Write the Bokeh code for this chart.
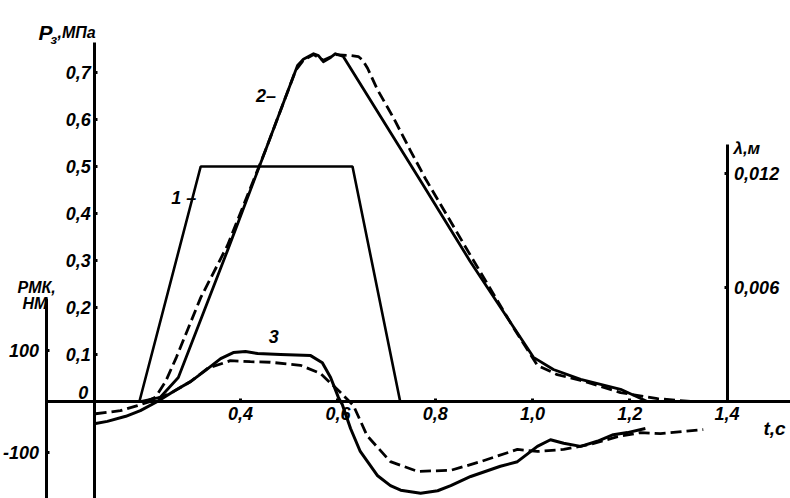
from bokeh.plotting import figure
from bokeh.models import Range1d, LinearAxis, FixedTicker, Label
from bokeh.embed import file_html
from bokeh.resources import INLINE

# ---- data ----
# curve 1: pressure programme P, MPa
t1 = [0.192, 0.318, 0.630, 0.728]
p1 = [0.0, 0.5, 0.5, 0.0]

# curve 2: pressure P, MPa (solid = measured, dashed = computed)
t2s = [0.194, 0.235, 0.272, 0.373, 0.451, 0.517, 0.529, 0.550, 0.560, 0.570, 0.585, 0.595,
       0.611, 0.772, 0.872, 1.002, 1.043, 1.099, 1.181, 1.236]
p2s = [0.000, 0.009, 0.051, 0.321, 0.534, 0.715, 0.728, 0.740, 0.736, 0.723, 0.732, 0.740,
       0.734, 0.466, 0.298, 0.094, 0.068, 0.047, 0.026, 0.000]
t2d = [0.205, 0.225, 0.246, 0.268, 0.318, 0.373, 0.451, 0.513, 0.529, 0.550, 0.570, 0.595,
       0.626, 0.642, 0.651, 0.661, 0.681, 0.714, 0.749, 0.780, 0.873, 0.961, 1.010, 1.051,
       1.099, 1.181, 1.257, 1.325]
p2d = [0.000, 0.009, 0.043, 0.094, 0.221, 0.332, 0.534, 0.704, 0.726, 0.738, 0.726, 0.738,
       0.736, 0.734, 0.726, 0.709, 0.664, 0.604, 0.534, 0.474, 0.310, 0.157, 0.077, 0.057,
       0.045, 0.019, 0.006, 0.000]

# curve 3: moment PMK, N*m
t3s = [0.102, 0.126, 0.164, 0.194, 0.229, 0.266, 0.297, 0.328, 0.359, 0.385, 0.410, 0.435,
       0.482, 0.544, 0.568, 0.585, 0.601, 0.609, 0.626, 0.646, 0.681, 0.708, 0.729, 0.770,
       0.805, 0.832, 0.873, 0.934, 0.969, 1.010, 1.037, 1.064, 1.099, 1.133, 1.166, 1.195,
       1.232]
m3s = [-43, -39, -29, -18, 0, 22, 39, 61, 84, 96, 98, 94,
       92, 90, 76, 47, 8, -6, -53, -98, -145, -165, -174, -180,
       -175, -165, -147, -127, -118, -88, -75, -82, -88, -78, -65, -61,
       -53]
t3d = [0.102, 0.153, 0.188, 0.215, 0.256, 0.297, 0.332, 0.379, 0.420, 0.461, 0.523, 0.564,
       0.605, 0.632, 0.660, 0.708, 0.764, 0.832, 0.893, 0.969, 1.010, 1.064, 1.119, 1.175,
       1.222, 1.263, 1.351]
m3d = [-24, -18, -8, 0, 16, 39, 65, 80, 78, 77, 71, 55,
       18, -8, -67, -118, -137, -135, -118, -94, -98, -94, -84, -69,
       -61, -63, -55]

# ticks
t_ticks = [0.4, 0.6, 0.8, 1.0, 1.2, 1.4]
t_labels = ["0,4", "0,6", "0,8", "1,0", "1,2", "1,4"]
p_ticks = [0.1, 0.2, 0.3, 0.4, 0.5, 0.6, 0.7]
p_labels = ["0,1", "0,2", "0,3", "0,4", "0,5", "0,6", "0,7"]
m_ticks = [-100, 100]
m_labels = ["-100", "100"]
l_ticks = [0.006, 0.012]
l_labels = ["0,006", "0,012"]

FONT = "Liberation Sans"
FS = "18px"
FSTYLE = "bold italic"

p = figure(width=790, height=498, output_backend="svg", toolbar_location=None,
           x_range=Range1d(-0.09353, 1.53031), y_range=Range1d(-0.20638, 0.85319),
           x_axis_type=None, y_axis_type=None, min_border=0)
p.outline_line_color = None
p.background_fill_color = "white"
p.extra_y_ranges = {"pmk": Range1d(-190.2, 786.27), "lam": Range1d(-0.005105, 0.021105)}


def style(ax, standoff):
    ax.axis_line_width = 3
    ax.axis_line_color = "black"
    ax.major_tick_line_width = 3
    ax.major_tick_in = 3
    ax.major_tick_out = 0
    ax.minor_tick_line_color = None
    ax.major_label_text_font = FONT
    ax.major_label_text_font_style = FSTYLE
    ax.major_label_text_font_size = FS
    ax.major_label_text_color = "black"
    ax.major_label_standoff = standoff


xa = LinearAxis(fixed_location=0, bounds=(0, 1.54), ticker=FixedTicker(ticks=t_ticks),
                major_label_overrides={k: v for k, v in zip(t_ticks, t_labels)})
style(xa, 5)
p.add_layout(xa, "below")

pa = LinearAxis(fixed_location=0.1, bounds=(-0.22, 0.764), ticker=FixedTicker(ticks=p_ticks),
                major_label_overrides={k: v for k, v in zip(p_ticks, p_labels)})
style(pa, 4)
p.add_layout(pa, "left")

ma = LinearAxis(y_range_name="pmk", fixed_location=0, bounds=(-200, 202),
                ticker=FixedTicker(ticks=m_ticks),
                major_label_overrides={k: v for k, v in zip(m_ticks, m_labels)})
style(ma, 7)
p.add_layout(ma, "left")

la = LinearAxis(y_range_name="lam", fixed_location=1.4, bounds=(0, 0.0135),
                ticker=FixedTicker(ticks=l_ticks),
                major_label_overrides={k: v for k, v in zip(l_ticks, l_labels)})
style(la, 7)
p.add_layout(la, "right")

# curves
p.line(t1, p1, line_color="black", line_width=2.6)
p.line(t2s, p2s, line_color="black", line_width=2.8, line_join="round")
p.line(t2d, p2d, line_color="black", line_width=2.8, line_dash="11 5", line_join="round")
p.line(t3s, m3s, y_range_name="pmk", line_color="black", line_width=3, line_join="round")
p.line(t3d, m3d, y_range_name="pmk", line_color="black", line_width=2.8, line_dash="11 5",
       line_join="round")


def lab(x, y, text, size=FS, align="left", baseline="alphabetic", style_=FSTYLE):
    l = Label(x=x, y=y, text=text, text_font=FONT, text_font_style=style_,
              text_font_size=size, text_align=align, text_baseline=baseline,
              text_color="black")
    p.add_layout(l)


# axis titles
lab(-0.0154, 0.785, "P", size="21px")
lab(0.0093, 0.771, "з", size="13px")
lab(0.0236, 0.785, ",МПа", size="16px")
lab(-0.0586, 0.2426, "РМК,", size="16px")
lab(-0.0483, 0.2085, "НМ", size="16px")
lab(1.413, 0.538, "λ,м", size="17px")
lab(1.4748, -0.0574, "t,с", size="19px")
lab(0.087, 0.019, "0", size=FS, align="right")

# curve numbers
lab(0.283, 0.434, "1 –", size=FS, align="center", baseline="middle")
lab(0.452, 0.651, "2–", size=FS, align="center", baseline="middle")
lab(0.468, 0.138, "3", size=FS, align="center", baseline="middle")

open("out.html", "w").write(file_html(p, INLINE))
